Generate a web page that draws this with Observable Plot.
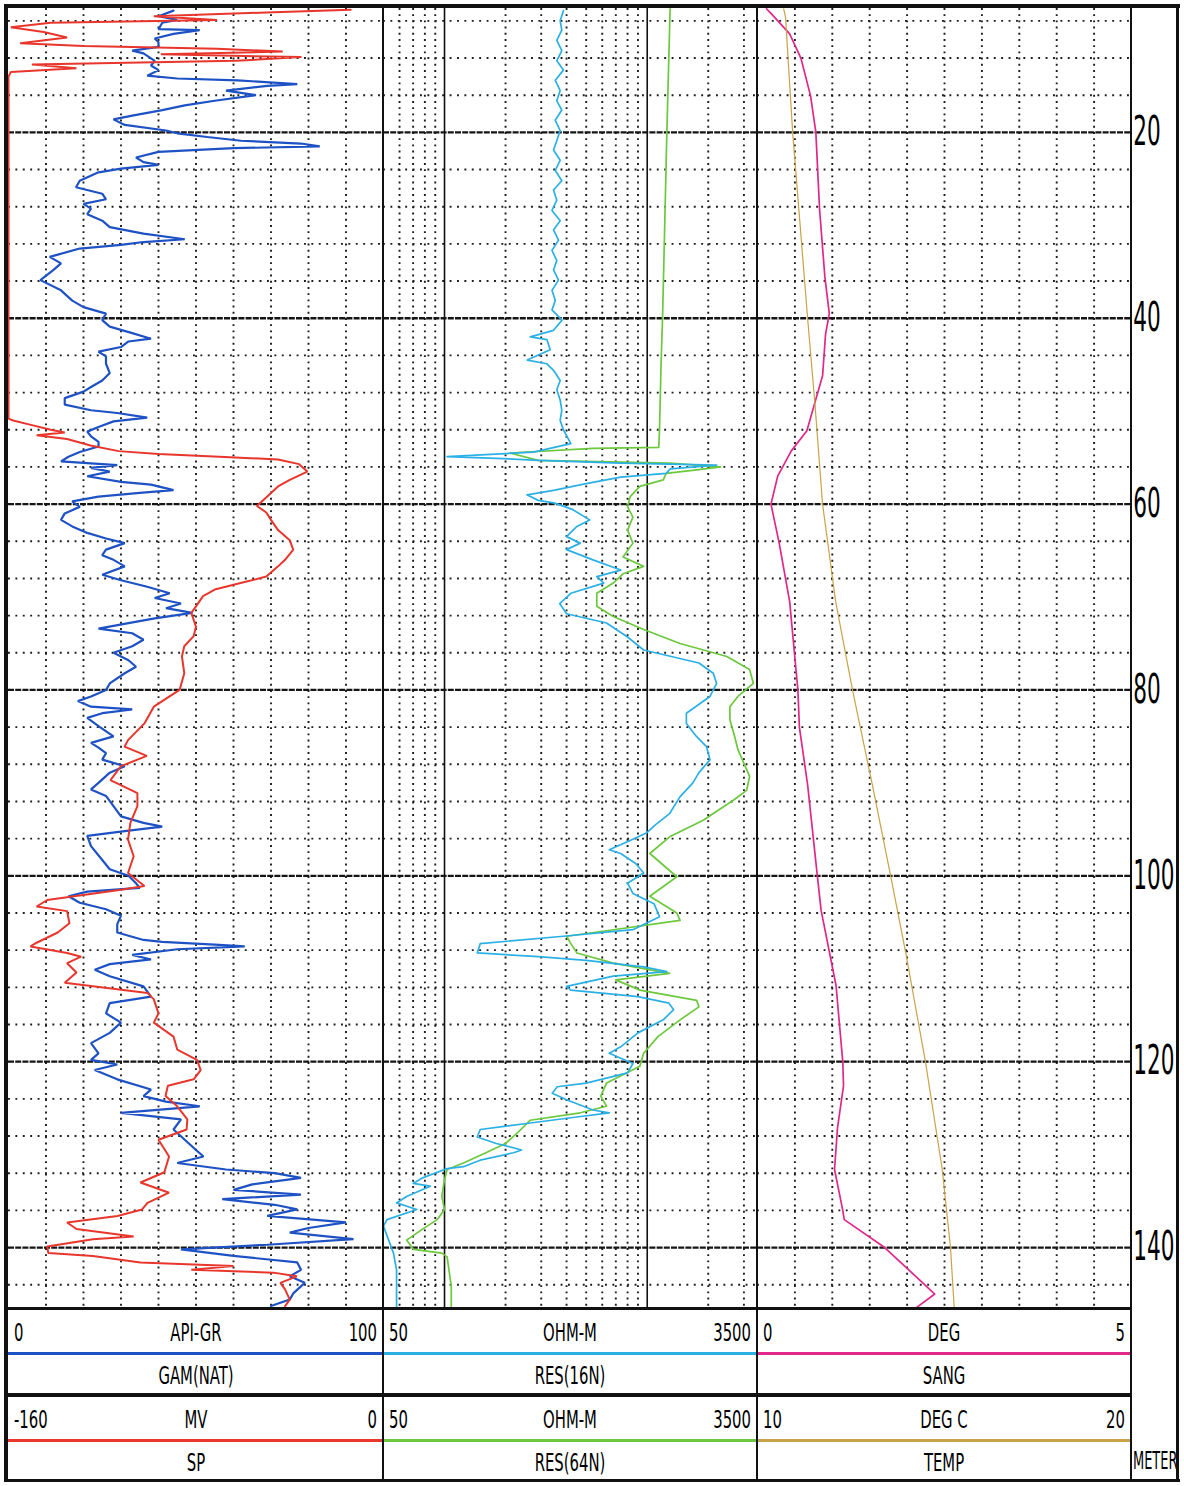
<!DOCTYPE html>
<html>
<head>
<meta charset="utf-8">
<script src="https://cdn.jsdelivr.net/npm/d3@7"></script>
<script src="https://cdn.jsdelivr.net/npm/@observablehq/plot@0.6"></script>
<style>
  html, body { margin: 0; padding: 0; background: #fff; }
  #wrap { position: relative; width: 1184px; height: 1486px; overflow: hidden; background: #fff;
          font-family: "Liberation Sans Narrow", "DejaVu Sans Condensed", "Liberation Sans", sans-serif; color: #000; }
</style>
</head>
<body>
<div id="wrap"></div>
<script>
// ---------------- DATA (depth in metres, value) ----------------
const depthTicks = [20, 40, 60, 80, 100, 120, 140];
const grTicks = [10, 20, 30, 40, 50, 60, 70, 80, 90];
const resMinorTicks = [60, 70, 80, 90, 200, 300, 400, 500, 600, 700, 800, 900, 2000, 3000];
const resMajorTicks = [100, 1000];
const sangTicks = [0.5, 1, 1.5, 2, 2.5, 3, 3.5, 4, 4.5];

const GAM_NAT = [[6.9,44],[7.5,40],[7.9,45],[8.2,41],[8.9,40],[9.0,51],[9.4,44],[9.9,39],[10.3,40],[10.8,40],[11.2,33],[11.5,36],[12.3,39],[12.8,38],[13.3,40],[13.9,37],[14.2,45],[14.4,61],[14.8,77],[15.0,69],[15.5,58],[16.0,66],[16.6,55],[17.1,47],[17.6,41],[18.2,33],[18.6,28],[19.2,31],[19.8,42],[20.1,45],[20.5,53],[20.9,62],[21.2,78],[21.5,83],[21.7,60],[22.1,40],[22.7,34],[23.2,36],[23.5,40],[23.9,30],[24.3,24],[25.2,19],[25.9,18],[26.6,25],[27.2,26],[27.7,20],[28.2,22],[28.8,21],[29.5,25],[30.2,27],[30.9,36],[31.5,47],[31.8,36],[32.1,30],[32.5,19],[33.4,11],[34.1,14],[34.8,12],[35.9,8.5],[37.0,14],[38.1,17],[38.8,20],[39.5,26],[40.2,25],[40.9,27],[41.6,33],[42.2,38],[42.5,32],[43.1,30],[43.6,24],[44.1,26],[44.9,26],[45.9,27],[46.7,25],[47.4,22],[47.9,20],[48.6,15],[49.3,15],[49.9,22],[50.2,29],[50.7,37],[51.1,28],[51.7,24],[52.2,21],[52.7,22],[53.3,24],[53.8,24],[54.4,19],[54.9,16],[55.4,14],[55.8,29],[56.1,22],[56.5,27],[57.0,21],[57.6,30],[57.9,38],[58.5,44],[58.8,35],[59.2,24],[59.7,17],[60.3,19],[61.0,15],[61.7,14],[62.4,17],[63.1,21],[63.7,26],[64.2,31],[64.9,26],[65.5,25],[66.0,28],[66.7,31],[67.6,25],[68.2,30],[68.9,37],[69.6,43],[70.1,39],[70.7,46],[71.2,42],[71.7,49],[72.3,39],[72.8,32],[73.4,24],[73.9,33],[74.6,36],[75.3,33],[76.0,28],[76.8,32],[77.5,34],[78.2,31],[79.3,27],[80.0,26],[80.7,22],[81.2,18.5],[81.8,22],[82.1,33],[82.5,25],[83.0,21],[83.9,24],[85.0,28],[85.7,22],[86.2,24],[86.8,26],[87.5,25],[88.2,31],[88.9,27],[90.0,24],[90.7,22],[91.4,26],[92.5,28],[93.6,30],[94.3,36],[94.7,41],[95.2,31],[95.7,21],[96.8,22],[98.3,25],[99.3,27],[100.0,32],[100.8,34],[101.3,35],[101.7,21],[102.2,16],[102.9,19],[103.6,26],[104.3,30],[105.2,29],[106.1,29],[106.9,36],[107.1,41],[107.4,55],[107.6,63],[107.9,45],[108.5,33],[109.0,38],[109.5,27],[110.1,23],[110.8,27],[111.9,36],[113.0,38],[113.7,27],[114.8,26],[115.8,30],[116.9,27],[118.0,22],[119.1,24],[119.8,22],[120.3,29],[120.9,23],[121.9,29],[123.0,38],[123.7,36],[124.3,42],[124.8,51],[125.5,30],[126.2,46],[127.3,44],[128.4,47],[129.5,50],[130.2,52],[130.9,45],[131.6,58],[132.0,71],[132.5,78],[133.2,65],[133.8,60],[134.3,78],[134.8,57],[135.4,71],[135.9,77],[136.6,69],[137.3,90],[137.9,80],[138.4,75],[139.1,92],[139.7,69],[140.2,46],[140.9,60],[141.6,77],[142.4,78],[143.1,75],[143.8,79],[144.9,76],[145.6,75],[146.3,70]];

const SP = [[6.8,-14],[7.1,-50],[7.5,-98],[7.9,-71],[8.2,-142],[8.7,-159],[9.2,-145],[9.8,-135],[10.4,-155],[10.7,-128],[11.0,-71],[11.3,-43],[11.6,-95],[11.9,-35],[12.3,-63],[12.7,-150],[13.1,-131],[13.5,-159],[14.0,-160],[50.8,-160],[51.0,-158],[51.5,-150],[52.0,-142],[52.3,-136],[52.6,-148],[53.0,-135],[53.7,-125],[54.3,-113],[54.6,-96],[54.9,-70],[55.2,-45],[55.7,-36],[56.5,-32.5],[57.4,-40],[58.1,-45],[58.8,-48],[60.2,-54],[60.9,-50],[61.7,-48],[62.8,-45],[63.9,-40],[64.9,-38.5],[66.0,-42],[66.7,-45],[67.8,-50],[68.5,-61],[69.2,-72],[69.9,-77],[71.0,-80],[71.7,-82],[73.2,-80],[74.2,-81],[75.3,-85],[76.4,-86],[78.2,-85],[80.0,-87],[81.8,-98],[83.6,-102],[85.4,-109],[86.1,-110.5],[87.1,-101],[88.2,-112],[89.7,-116.5],[91.1,-105],[92.5,-105],[94.3,-108],[96.1,-109],[97.9,-106.6],[99.7,-109],[101.1,-102],[101.5,-112],[102.6,-143.5],[103.3,-148],[103.8,-135],[105.1,-134],[106.1,-139],[107.2,-148],[107.6,-150.6],[108.3,-135],[108.7,-129],[109.4,-135],[110.4,-131],[111.5,-136],[112.6,-100.7],[113.3,-98],[114.8,-96],[115.8,-98],[117.3,-89.6],[118.7,-88],[119.8,-79.6],[120.9,-78],[121.9,-81],[122.6,-92],[123.7,-93],[124.8,-88],[126.2,-83.7],[127.3,-84],[128.4,-96],[130.2,-91.5],[131.9,-93.5],[133.0,-103.7],[134.1,-91.5],[135.2,-100.7],[135.9,-103],[136.6,-113.5],[137.3,-135],[138.0,-131],[138.8,-106.6],[139.1,-124],[139.9,-143.5],[140.6,-143],[140.9,-124],[141.6,-103.7],[142.0,-64],[142.4,-82],[142.7,-47],[143.1,-37],[143.8,-44],[144.5,-42],[145.6,-40],[146.3,-42]];

const RES_16N = [[6.9,386],[8.0,372],[9.0,379],[10.1,358],[11.2,379],[12.3,358],[13.3,386],[14.4,352],[15.5,372],[16.6,358],[17.6,379],[18.7,352],[19.8,372],[20.9,358],[21.9,345],[23.0,372],[24.1,352],[25.2,379],[26.2,345],[27.3,358],[28.4,339],[29.5,372],[30.5,345],[31.6,365],[32.7,339],[33.8,358],[34.8,345],[35.9,365],[37.0,339],[38.1,352],[39.1,339],[40.2,380],[41.3,345],[42.0,265],[42.3,320],[43.4,332],[44.5,256],[44.9,320],[45.6,345],[46.7,372],[47.7,358],[48.8,372],[49.9,379],[51.0,372],[52.0,386],[53.5,420],[54.4,275],[54.9,103],[55.1,195],[55.3,290],[55.6,740],[55.7,1290],[55.8,2200],[56.2,1300],[56.7,1240],[57.1,740],[57.8,500],[58.5,350],[59.0,255],[59.6,290],[59.9,350],[60.6,430],[61.7,520],[62.4,450],[63.5,400],[64.2,467],[64.9,400],[66.0,540],[67.1,740],[67.8,564],[68.5,610],[69.6,420],[70.7,370],[71.8,400],[72.8,630],[74.3,800],[75.7,960],[77.1,1800],[78.2,2118],[79.3,2200],[80.7,2040],[82.5,1560],[83.6,1560],[85.0,1750],[86.1,1960],[87.5,2040],[88.9,1800],[90.0,1680],[91.5,1450],[93.3,1290],[94.5,1100],[95.4,990],[96.2,824],[97.2,650],[97.6,740],[98.7,880],[99.7,960],[100.8,800],[101.9,850],[103.0,1080],[104.4,1150],[105.8,850],[106.5,386],[107.3,150],[108.3,145],[108.7,290],[109.1,500],[109.8,960],[110.3,1250],[110.8,680],[111.9,400],[112.3,420],[113.0,900],[113.7,1280],[114.4,1350],[115.5,1200],[116.9,900],[118.4,740],[119.1,650],[120.2,850],[121.2,800],[122.3,500],[122.7,360],[123.4,340],[124.1,400],[125.2,540],[125.5,650],[125.9,470],[126.6,265],[127.3,150],[128.1,145],[128.8,180],[129.5,240],[129.8,219],[130.6,150],[131.3,124],[131.5,103],[132.5,78],[133.1,70],[133.4,85],[134.5,65],[135.2,58],[135.9,73],[137.0,52],[137.7,50],[139.2,53],[140.6,56],[142.4,58],[146.4,58]];

const RES_64N = [[6.7,1297],[20,1250],[30,1220],[40,1190],[45,1170],[52.0,1150],[53.9,1140],[54.0,540],[54.5,210],[55.3,290],[55.6,1290],[56.0,2300],[56.3,1800],[56.7,1240],[57.4,1200],[58.1,920],[59.2,824],[60.3,800],[61.4,850],[62.8,800],[64.2,850],[65.7,760],[66.7,960],[67.5,760],[68.5,680],[69.6,564],[71.0,564],[72.1,680],[73.5,960],[75.0,1452],[76.4,2470],[77.8,3200],[79.3,3340],[80.7,2800],[81.8,2558],[83.2,2558],[85.0,2700],[86.4,2800],[87.9,3000],[89.3,3200],[90.8,3094],[91.9,2650],[93.3,2118],[94.0,1900],[95.8,1290],[97.6,1030],[100.1,1400],[102.2,1030],[104.0,1400],[104.8,1452],[105.8,682],[106.5,400],[107.3,420],[108.3,450],[109.4,680],[110.5,1290],[111.2,700],[112.3,920],[113.4,1753],[114.1,1800],[115.5,1452],[117.3,1130],[119.1,960],[120.5,920],[122.3,630],[123.7,590],[124.8,630],[125.5,467],[126.3,265],[127.7,228],[128.8,200],[129.8,160],[130.9,124],[131.6,103],[132.7,100],[134.5,97],[135.9,100],[137.0,92],[138.1,77],[139.2,65],[140.2,70.5],[140.6,97],[141.0,103],[144.2,108],[146.4,108]];

const SANG = [[6.7,0.12],[7.2,0.18],[9.4,0.43],[12.0,0.58],[16.1,0.71],[20,0.78],[28.3,0.83],[35.5,0.90],[39.5,0.96],[41.7,0.91],[46.2,0.87],[52.1,0.66],[54.3,0.45],[57.0,0.27],[60,0.18],[64.2,0.29],[70.5,0.43],[80,0.54],[84,0.56],[90.2,0.67],[100,0.80],[103.7,0.85],[111.8,1.05],[120,1.14],[122.6,1.15],[127.1,1.07],[131.6,1.03],[136,1.14],[137,1.16],[140,1.70],[145,2.37],[146.5,2.12]];

const TEMP = [[6.7,10.7],[7.6,10.75],[20,10.94],[40,11.34],[48.9,11.53],[60,11.74],[70.5,12.09],[80,12.54],[90.2,13.07],[100,13.56],[108.2,13.96],[120,14.49],[131.6,14.94],[140,15.16],[146.5,15.26]];

const legendRows = [
  [ {lo:"0",    unit:"API-GR", hi:"100",  name:"GAM(NAT)", color:"#1e52c4"},
    {lo:"50",   unit:"OHM-M",  hi:"3500", name:"RES(16N)", color:"#2bb0e6"},
    {lo:"0",    unit:"DEG",    hi:"5",    name:"SANG",     color:"#e0288a"} ],
  [ {lo:"-160", unit:"MV",     hi:"0",    name:"SP",       color:"#e8362d"},
    {lo:"50",   unit:"OHM-M",  hi:"3500", name:"RES(64N)", color:"#6cc83c"},
    {lo:"10",   unit:"DEG C",  hi:"20",   name:"TEMP",     color:"#c9a347"} ]
];
const depthUnit = "METER";

// ---------------- LAYOUT ----------------
const wrap = document.getElementById("wrap");
const H = 1300, TOP = 8;
const DEPTH = [6.67, 146.56];
const trackLeft = [8, 383, 757];
const trackWidth = [375, 374, 374];
const DEPTH_COL = 45;

const yOpt = {domain: DEPTH, reverse: true, axis: null};
const minorDepths = d3.range(8, 147, 4).filter(d => d % 20 !== 0);
const dotH = {stroke: "#1c1c1c", strokeWidth: 1.9, strokeDasharray: "1.9,5.5"};
const dotV = {stroke: "#1c1c1c", strokeWidth: 1.9, strokeDasharray: "1.9,4.3"};
const heavy = {stroke: "#151515", strokeWidth: 2.3, strokeDasharray: "6,1.2"};
const baseStyle = {background: "transparent", overflow: "visible"};

function place(svg, left) {
  svg.style.position = "absolute";
  svg.style.left = left + "px";
  svg.style.top = TOP + "px";
  wrap.appendChild(svg);
  return svg;
}
const pt = {x: d => d[1], y: d => d[0]};

// Track 1: GR (0-100) with grid
place(Plot.plot({
  width: trackWidth[0], height: H, margin: 0,
  x: {domain: [0, 100], axis: null}, y: yOpt, style: baseStyle,
  marks: [
    Plot.ruleX(grTicks, dotV),
    Plot.ruleY(minorDepths, dotH),
    Plot.ruleY(depthTicks, heavy),
    Plot.line(GAM_NAT, {...pt, stroke: legendRows[0][0].color, strokeWidth: 2.2, strokeLinejoin: "miter"})
  ]
}), trackLeft[0]);

// Track 1 overlay: SP (-160..0)
place(Plot.plot({
  width: trackWidth[0], height: H, margin: 0,
  x: {domain: [-160, 0], axis: null}, y: yOpt, style: baseStyle,
  marks: [
    Plot.line(SP, {...pt, stroke: legendRows[1][0].color, strokeWidth: 2, strokeLinejoin: "miter"})
  ]
}), trackLeft[0]);

// Track 2: resistivities (log 50-3500)
place(Plot.plot({
  width: trackWidth[1], height: H, margin: 0,
  x: {type: "log", domain: [50, 3500], axis: null}, y: yOpt, style: baseStyle,
  marks: [
    Plot.ruleX(resMinorTicks, dotV),
    Plot.ruleY(minorDepths, dotH),
    Plot.ruleX(resMajorTicks, {stroke: "#111", strokeWidth: 1.6}),
    Plot.ruleY(depthTicks, heavy),
    Plot.line(RES_64N, {...pt, stroke: legendRows[1][1].color, strokeWidth: 1.7}),
    Plot.line(RES_16N, {...pt, stroke: legendRows[0][1].color, strokeWidth: 1.7})
  ]
}), trackLeft[1]);

// Track 3: SANG (0-5) with grid and depth labels
const t3 = place(Plot.plot({
  width: trackWidth[2] + DEPTH_COL, height: H, marginTop: 0, marginBottom: 0, marginLeft: 0, marginRight: DEPTH_COL,
  x: {domain: [0, 5], axis: null}, y: yOpt, style: {...baseStyle, color: "#000"},
  marks: [
    Plot.ruleX(sangTicks, dotV),
    Plot.ruleY(minorDepths, dotH),
    Plot.ruleY(depthTicks, heavy),
    Plot.axisY(depthTicks, {anchor: "right", tickSize: 0, tickPadding: 2, fontSize: 40,
      fontFamily: "Liberation Sans Narrow, DejaVu Sans Condensed, sans-serif", fill: "#000"}),
    Plot.line(SANG, {...pt, stroke: legendRows[0][2].color, strokeWidth: 1.7})
  ]
}), trackLeft[2]);

// Track 3 overlay: TEMP (10-20)
place(Plot.plot({
  width: trackWidth[2] + DEPTH_COL, height: H, marginTop: 0, marginBottom: 0, marginLeft: 0, marginRight: DEPTH_COL,
  x: {domain: [10, 20], axis: null}, y: yOpt, style: baseStyle,
  marks: [
    Plot.line(TEMP, {...pt, stroke: legendRows[1][2].color, strokeWidth: 1.2})
  ]
}), trackLeft[2]);

// condense the depth numbers (narrow log-plot lettering): wrap the axis label group in a horizontal squeeze
(function () {
  const NS = "http://www.w3.org/2000/svg";
  const x0 = trackWidth[2] + 2;
  t3.querySelectorAll('g[aria-label="y-axis tick label"]').forEach(g => {
    const w = document.createElementNS(NS, "g");
    w.setAttribute("transform", `translate(${x0},0) scale(0.6,1) translate(${-x0},0)`);
    g.parentNode.insertBefore(w, g);
    w.appendChild(g);
  });
})();

// ---------------- FRAME & LEGEND ----------------
function box(x, y, w, h, color) {
  const d = document.createElement("div");
  d.style.cssText = `position:absolute;left:${x}px;top:${y}px;width:${w}px;height:${h}px;background:${color};`;
  wrap.appendChild(d);
  return d;
}
function txt(str, x, y, anchor, size, sx) {
  const s = document.createElement("span");
  s.textContent = str;
  const tx = anchor === "middle" ? "-50%" : anchor === "end" ? "-100%" : "0";
  const ox = anchor === "middle" ? "50%" : anchor === "end" ? "100%" : "0";
  s.style.cssText = `position:absolute;left:${x}px;top:${y}px;font-size:${size}px;line-height:1;white-space:nowrap;` +
    `transform:translate(${tx},-50%) scaleX(${sx});transform-origin:${ox} 50%;`;
  wrap.appendChild(s);
}

const LEG_TOP = 1309;
const rowY = [LEG_TOP, 1396];
legendRows.forEach((row, r) => {
  const y0 = rowY[r];
  row.forEach((c, i) => {
    const x0 = trackLeft[i], w = trackWidth[i];
    txt(c.lo, x0 + 6, y0 + 23, "start", 25, 0.66);
    txt(c.unit, x0 + w / 2, y0 + 23, "middle", 25, 0.66);
    txt(c.hi, x0 + w - 6, y0 + 23, "end", 25, 0.66);
    box(x0, y0 + 43, w, 3, c.color);
    txt(c.name, x0 + w / 2, y0 + 66, "middle", 25, 0.66);
  });
});
txt(depthUnit, 1133, 1461, "start", 24, 0.6);

// borders
box(4, 4, 1176, 4, "#111");            // top
box(4, 4, 4, 1478, "#111");            // left
box(1176, 4, 3, 1478, "#111");         // right
box(382, 8, 2, 1472, "#111");          // track 1|2
box(756, 8, 2, 1472, "#111");          // track 2|3
box(1130, 8, 2, 1472, "#111");         // track 3|depth
box(8, 1307, 1123, 3, "#111");         // legend top
box(8, 1393, 1123, 4, "#111");         // legend separator
box(4, 1479, 1176, 3, "#111");         // bottom
</script>
</body>
</html>
